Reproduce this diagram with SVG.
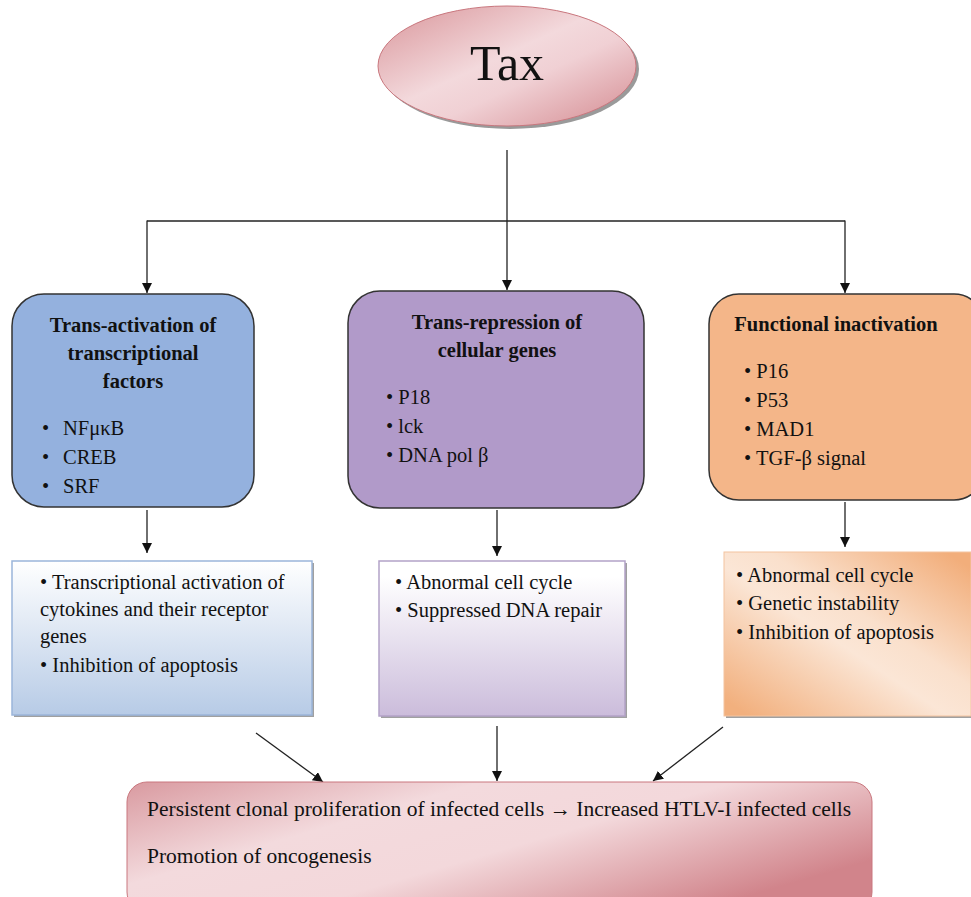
<svg xmlns="http://www.w3.org/2000/svg" width="971" height="897" viewBox="0 0 971 897">
<defs>
<style>
text{font-family:"Liberation Serif","Times New Roman",serif;fill:#111;}
.title{font-size:20.5px;font-weight:bold;text-anchor:middle;}
.item{font-size:20.5px;}
.conn{stroke:#222;stroke-width:1.3;fill:none;}
.node{stroke:#333;stroke-width:1.5;}
</style>
<marker id="ah" viewBox="0 0 10 10" refX="10" refY="5" markerWidth="10" markerHeight="10" markerUnits="userSpaceOnUse" orient="auto">
<path d="M0,0 L10,5 L0,10 z" fill="#111"/>
</marker>
<linearGradient id="pink" x1="0" y1="0" x2="1" y2="1">
<stop offset="0" stop-color="#d9959a"/>
<stop offset="0.45" stop-color="#f3d9dc"/>
<stop offset="0.6" stop-color="#f0d0d4"/>
<stop offset="1" stop-color="#d48a90"/>
</linearGradient>
<linearGradient id="pinkBottom" x1="0" y1="0" x2="1" y2="0.6">
<stop offset="0" stop-color="#d99aa0"/>
<stop offset="0.35" stop-color="#f3dadd"/>
<stop offset="0.6" stop-color="#f3d8db"/>
<stop offset="1" stop-color="#d1848b"/>
</linearGradient>
<linearGradient id="blueGrad" x1="0" y1="0" x2="0" y2="1">
<stop offset="0" stop-color="#ffffff"/>
<stop offset="1" stop-color="#b7cbe6"/>
</linearGradient>
<linearGradient id="purpleGrad" x1="0" y1="0" x2="0" y2="1">
<stop offset="0.1" stop-color="#ffffff"/>
<stop offset="1" stop-color="#cbbcdb"/>
</linearGradient>
<linearGradient id="orangeGrad" x1="0" y1="0.9" x2="0.9" y2="0">
<stop offset="0" stop-color="#f2b07e"/>
<stop offset="0.45" stop-color="#fbe6d6"/>
<stop offset="0.6" stop-color="#fae0cc"/>
<stop offset="1" stop-color="#f2ae7b"/>
</linearGradient>
</defs>

<g id="connectors">
<line class="conn" x1="507" y1="150" x2="507" y2="290" marker-end="url(#ah)"/>
<line class="conn" x1="147" y1="221" x2="845" y2="221"/>
<line class="conn" x1="147" y1="220.4" x2="147" y2="293" marker-end="url(#ah)"/>
<line class="conn" x1="845" y1="220.4" x2="845" y2="293" marker-end="url(#ah)"/>
<line class="conn" x1="147" y1="510" x2="147" y2="553" marker-end="url(#ah)"/>
<line class="conn" x1="497" y1="510" x2="497" y2="556" marker-end="url(#ah)"/>
<line class="conn" x1="845" y1="502" x2="845" y2="547" marker-end="url(#ah)"/>
<line class="conn" x1="256" y1="733" x2="323" y2="782" marker-end="url(#ah)"/>
<line class="conn" x1="497" y1="726" x2="497" y2="781" marker-end="url(#ah)"/>
<line class="conn" x1="723" y1="727" x2="653" y2="781" marker-end="url(#ah)"/>
</g>

<g id="tax">
<ellipse cx="510" cy="69" rx="129" ry="60" fill="#9a9a9a"/>
<ellipse cx="507" cy="66" rx="129" ry="60" fill="url(#pink)" stroke="#c9777e" stroke-width="1"/>
<text x="507" y="80" text-anchor="middle" style="font-size:50px">Tax</text>
</g>

<g id="trans-activation">
<rect class="node" x="12" y="294" width="242" height="213" rx="32" fill="#94b1de"/>
<text class="title" x="133" y="332">Trans-activation of</text>
<text class="title" x="133" y="360">transcriptional</text>
<text class="title" x="133" y="388">factors</text>
<text class="item" x="42" y="435">•</text><text class="item" x="63" y="435">NFμκB</text>
<text class="item" x="42" y="464">•</text><text class="item" x="63" y="464">CREB</text>
<text class="item" x="42" y="493">•</text><text class="item" x="63" y="493">SRF</text>
</g>

<g id="trans-repression">
<rect class="node" x="348" y="291" width="296" height="217" rx="32" fill="#b19ac9"/>
<text class="title" x="497" y="329">Trans-repression of</text>
<text class="title" x="497" y="357">cellular genes</text>
<text class="item" x="386" y="404">• P18</text>
<text class="item" x="386" y="433">• lck</text>
<text class="item" x="386" y="462">• DNA pol β</text>
</g>

<g id="functional-inactivation">
<rect class="node" x="709" y="294" width="275" height="206" rx="30" fill="#f4b689"/>
<text class="title" x="836" y="331">Functional inactivation</text>
<text class="item" x="744" y="378">• P16</text>
<text class="item" x="744" y="407">• P53</text>
<text class="item" x="744" y="436">• MAD1</text>
<text class="item" x="744" y="465">• TGF-β signal</text>
</g>

<g id="blue-effects">
<rect x="14" y="563" width="300" height="154" fill="#a0a0a0"/>
<rect x="12" y="561" width="300" height="154" fill="url(#blueGrad)" stroke="#9bb5da" stroke-width="1.5"/>
<text class="item" x="40" y="589">• Transcriptional activation of</text>
<text class="item" x="40" y="616">cytokines and their receptor</text>
<text class="item" x="40" y="643">genes</text>
<text class="item" x="40" y="672">• Inhibition of apoptosis</text>
</g>

<g id="purple-effects">
<rect x="381" y="563" width="246" height="155" fill="#a0a0a0"/>
<rect x="379" y="561" width="246" height="155" fill="url(#purpleGrad)" stroke="#b3a2c7" stroke-width="1.5"/>
<text class="item" x="395" y="589">• Abnormal cell cycle</text>
<text class="item" x="395" y="617">• Suppressed DNA repair</text>
</g>

<g id="orange-effects">
<rect x="726" y="554" width="248" height="164" fill="#a0a0a0"/>
<rect x="724" y="552" width="247" height="164" fill="url(#orangeGrad)" stroke="#f4c4a0" stroke-width="1"/>
<text class="item" x="736" y="582">• Abnormal cell cycle</text>
<text class="item" x="736" y="610">• Genetic instability</text>
<text class="item" x="736" y="639">• Inhibition of apoptosis</text>
</g>

<g id="outcome">
<rect x="127" y="782" width="745" height="130" rx="20" fill="url(#pinkBottom)" stroke="#c9777e" stroke-width="1"/>
<text class="item" x="147" y="816" style="font-size:21.5px">Persistent clonal proliferation of infected cells → Increased HTLV-I infected cells</text>
<text class="item" x="147" y="863" style="font-size:21.5px">Promotion of oncogenesis</text>
</g>
</svg>
